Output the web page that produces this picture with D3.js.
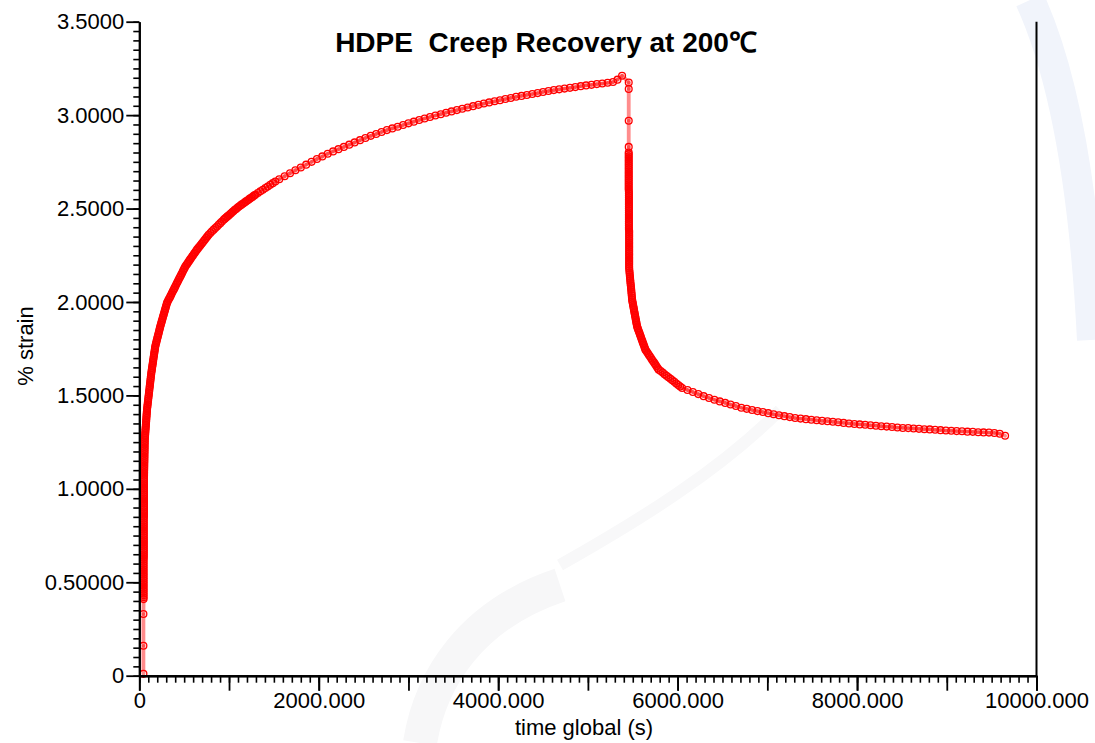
<!DOCTYPE html>
<html>
<head>
<meta charset="utf-8">
<script src="https://cdn.jsdelivr.net/npm/d3@7"></script>
<style>
  html, body { margin: 0; padding: 0; background: #ffffff; }
  svg text { font-family: "Liberation Sans", Arial, Helvetica, sans-serif; fill: #000; }
</style>
</head>
<body>
<svg id="chart" width="1095" height="743"></svg>
<script>
// ---- creep step (load applied) ----
const creepTime = [
  46, 46, 46,
  48, 48, 48, 48, 48, 48, 48, 48, 48, 48, 48, 48, 48, 48, 48, 48, 48, 48, 48, 48, 48, 48,
  50, 50, 50, 50, 50, 50, 50, 50, 50, 50, 50, 50, 50, 50, 50, 50, 50, 50, 50, 50, 50, 50,
  52, 52, 52, 52, 52, 52, 52, 52, 52, 52, 52, 52, 52, 52, 52, 52, 52, 52, 52, 52, 52, 52,
  53,
  53.4, 53.8, 54.2, 54.6, 55.0, 55.4, 55.8, 56.2, 56.6, 57.0, 57.4, 57.8, 58.2, 58.6, 59.0, 59.4, 59.8, 60.2, 60.6, 61.0,
  62.4, 63.8, 65.2, 66.6, 67.9, 69.3, 70.7, 72.1, 73.5, 74.9, 76.3, 77.7, 79.1, 80.4, 81.8, 83.2, 84.6, 86,
  88.4, 90.8, 93.2, 95.6, 98, 100.4, 102.8, 105.2, 107.6, 110, 112.4, 114.8, 117.2, 119.6, 122, 124.4, 126.8, 129.2, 131.6, 134,
  136.8, 139.5, 142.3, 145, 147.8, 150.5, 153.3, 156, 158.8, 161.5, 164.3, 167, 169.8, 172.5, 175.3, 178,
  182.7, 187.3, 192, 196.7, 201.3, 206, 210.7, 215.3, 220, 224.7, 229.3, 234,
  239.4, 244.7, 250.1, 255.4, 260.8, 266.1, 271.5, 276.9, 282.2, 287.6, 292.9, 298.3, 303.6, 309,
  318, 327, 337, 346, 355, 364, 374, 383, 392, 401,
  410, 420, 429, 438, 448, 457, 466, 476, 485, 494, 504, 513,
  524, 535, 545, 556, 567, 578, 589, 600, 610, 621, 632, 643,
  656, 669, 682, 695, 708, 721, 734, 747, 760, 773,
  792, 810, 829, 847, 866, 884, 903, 921, 940,
  954, 968, 982, 996, 1010, 1023, 1037, 1051, 1065, 1079, 1093, 1107,
  1123, 1138, 1154, 1169, 1185, 1200, 1216, 1231, 1247, 1262, 1278, 1293,
  1321, 1349, 1377, 1405, 1432, 1460, 1488, 1516,
  1560, 1620, 1680, 1740, 1800, 1860, 1920,
  1980, 2040, 2100, 2160,
  2220, 2280, 2340, 2400, 2460, 2520,
  2580, 2640, 2700, 2760,
  2820, 2880, 2940, 3000, 3060,
  3120, 3180, 3240, 3300, 3360, 3420,
  3480, 3540, 3600, 3660, 3720, 3780,
  3840,
  3900, 3960, 4020, 4080, 4140, 4200,
  4260, 4320, 4380, 4440, 4500, 4560,
  4620, 4680, 4740, 4800, 4860, 4920,
  4980, 5040, 5100, 5160, 5220,
  5280,
  5330, 5381
];
const creepStrain = [
  0.01, 0.16, 0.33,
  0.41, 0.42, 0.43, 0.44, 0.45, 0.46, 0.47, 0.48, 0.49, 0.50, 0.51, 0.52, 0.53, 0.54, 0.55, 0.56, 0.57, 0.58, 0.59, 0.60, 0.61, 0.62,
  0.63, 0.64, 0.65, 0.66, 0.67, 0.68, 0.69, 0.70, 0.71, 0.72, 0.73, 0.74, 0.75, 0.76, 0.77, 0.78, 0.79, 0.80, 0.81, 0.82, 0.83, 0.84,
  0.85, 0.86, 0.87, 0.88, 0.89, 0.90, 0.91, 0.92, 0.93, 0.94, 0.95, 0.96, 0.97, 0.98, 0.99, 1.00, 1.01, 1.02, 1.03, 1.04, 1.05, 1.06,
  1.07,
  1.080, 1.089, 1.099, 1.109, 1.118, 1.128, 1.138, 1.147, 1.157, 1.167, 1.176, 1.186, 1.196, 1.205, 1.215, 1.224, 1.234, 1.244, 1.253, 1.263,
  1.272, 1.281, 1.290, 1.299, 1.308, 1.317, 1.326, 1.335, 1.343, 1.352, 1.361, 1.370, 1.379, 1.388, 1.397, 1.406, 1.415, 1.424,
  1.434, 1.444, 1.453, 1.463, 1.473, 1.483, 1.493, 1.502, 1.512, 1.522, 1.532, 1.542, 1.551, 1.561, 1.571, 1.581, 1.591, 1.600, 1.610, 1.620,
  1.629, 1.638, 1.647, 1.656, 1.664, 1.673, 1.682, 1.691, 1.700, 1.709, 1.718, 1.727, 1.735, 1.744, 1.753, 1.762,
  1.771, 1.780, 1.789, 1.798, 1.807, 1.815, 1.824, 1.833, 1.842, 1.851, 1.860, 1.869,
  1.878, 1.887, 1.896, 1.905, 1.914, 1.923, 1.932, 1.941, 1.950, 1.959, 1.968, 1.977, 1.986, 1.995,
  2.004, 2.013, 2.021, 2.030, 2.039, 2.048, 2.057, 2.065, 2.074, 2.083,
  2.092, 2.101, 2.110, 2.119, 2.128, 2.136, 2.145, 2.154, 2.163, 2.172, 2.181, 2.190,
  2.198, 2.205, 2.213, 2.220, 2.228, 2.235, 2.243, 2.250, 2.258, 2.265, 2.273, 2.280,
  2.288, 2.296, 2.304, 2.312, 2.320, 2.328, 2.336, 2.344, 2.352, 2.360,
  2.369, 2.378, 2.387, 2.396, 2.404, 2.413, 2.422, 2.431, 2.440,
  2.446, 2.452, 2.458, 2.463, 2.469, 2.475, 2.481, 2.487, 2.493, 2.498, 2.504, 2.510,
  2.515, 2.521, 2.526, 2.531, 2.537, 2.542, 2.547, 2.553, 2.558, 2.563, 2.569, 2.574,
  2.583, 2.592, 2.601, 2.610, 2.618, 2.627, 2.636, 2.645,
  2.657, 2.673, 2.689, 2.705, 2.720, 2.735, 2.750,
  2.765, 2.779, 2.793, 2.806,
  2.818, 2.830, 2.842, 2.854, 2.866, 2.878,
  2.889, 2.899, 2.910, 2.920,
  2.929, 2.938, 2.947, 2.956, 2.965,
  2.974, 2.982, 2.990, 2.998, 3.005, 3.013,
  3.020, 3.027, 3.034, 3.041, 3.048, 3.055,
  3.062,
  3.068, 3.074, 3.080, 3.086, 3.092, 3.098,
  3.103, 3.108, 3.113, 3.118, 3.124, 3.129,
  3.134, 3.138, 3.142, 3.146, 3.150, 3.155,
  3.159, 3.162, 3.166, 3.169, 3.173,
  3.177,
  3.190, 3.211
];

// ---- recovery step (load removed) ----
const recoveryTime = [
  5455, 5455, 5455, 5455,
  5455, 5455, 5455, 5455, 5455, 5455, 5455, 5455, 5455, 5455, 5455, 5455, 5455, 5455, 5455, 5455, 5455, 5455, 5455, 5455, 5455,
  5457, 5457, 5457, 5457, 5457, 5457, 5457, 5457, 5457, 5457, 5457, 5457, 5457, 5457, 5457, 5457, 5457, 5457, 5457, 5457, 5457,
  5460, 5460, 5460, 5460, 5460, 5460, 5460, 5460, 5460, 5460, 5460, 5460, 5460, 5460, 5460, 5460, 5460, 5460, 5460, 5460, 5460,
  5462, 5464, 5466, 5468, 5470, 5472, 5474, 5476, 5479, 5481, 5483, 5485, 5487, 5489, 5491, 5493,
  5496, 5500, 5503, 5507, 5510, 5514, 5517, 5520, 5524, 5527, 5531, 5534, 5538, 5541, 5545, 5548,
  5555, 5561, 5568, 5575, 5581, 5588, 5594, 5601, 5608, 5614, 5621, 5628, 5634, 5641,
  5653, 5666, 5678, 5690, 5703, 5715, 5727, 5740, 5752, 5764, 5777, 5789,
  5811, 5833, 5854, 5876, 5898, 5920, 5941, 5963, 5985, 6007, 6028, 6050,
  6110, 6170, 6230, 6290, 6350,
  6410, 6470, 6530, 6590, 6650, 6710,
  6770, 6830, 6890, 6950, 7010, 7070,
  7130, 7190, 7250, 7310,
  7370, 7430, 7490, 7550, 7610, 7670, 7730, 7790, 7850, 7910,
  7970, 8030, 8090, 8150, 8210, 8270, 8330, 8390, 8450,
  8510, 8570, 8630, 8690, 8750, 8810, 8870, 8930, 8990,
  9050, 9110, 9170, 9230, 9290, 9350, 9410, 9470, 9530, 9590, 9650
];
const recoveryStrain = [
  3.175, 3.14, 2.97, 2.83,
  2.80, 2.79, 2.78, 2.77, 2.76, 2.75, 2.74, 2.73, 2.72, 2.71, 2.70, 2.69, 2.68, 2.67, 2.66, 2.65, 2.64, 2.63, 2.62, 2.61, 2.60,
  2.59, 2.58, 2.57, 2.56, 2.55, 2.54, 2.53, 2.52, 2.51, 2.50, 2.49, 2.48, 2.47, 2.46, 2.45, 2.44, 2.43, 2.42, 2.41, 2.40, 2.39,
  2.38, 2.37, 2.36, 2.35, 2.34, 2.33, 2.32, 2.31, 2.30, 2.29, 2.28, 2.27, 2.26, 2.25, 2.24, 2.23, 2.22, 2.21, 2.20, 2.19, 2.18,
  2.170, 2.159, 2.149, 2.138, 2.128, 2.117, 2.107, 2.096, 2.086, 2.075, 2.065, 2.054, 2.044, 2.033, 2.023, 2.012,
  2.003, 1.994, 1.985, 1.976, 1.967, 1.958, 1.949, 1.941, 1.932, 1.923, 1.914, 1.905, 1.896, 1.887, 1.878, 1.869,
  1.860, 1.851, 1.842, 1.834, 1.825, 1.816, 1.807, 1.798, 1.789, 1.780, 1.772, 1.763, 1.754, 1.745,
  1.736, 1.727, 1.718, 1.709, 1.700, 1.691, 1.683, 1.674, 1.665, 1.656, 1.647, 1.638,
  1.630, 1.622, 1.613, 1.605, 1.597, 1.589, 1.581, 1.573, 1.564, 1.556, 1.548, 1.540,
  1.529, 1.518, 1.507, 1.496, 1.486,
  1.477, 1.468, 1.460, 1.451, 1.443, 1.434,
  1.428, 1.422, 1.416, 1.411, 1.405, 1.399,
  1.394, 1.389, 1.384, 1.379,
  1.376, 1.373, 1.370, 1.367, 1.364, 1.362, 1.359, 1.356, 1.353, 1.350,
  1.347, 1.345, 1.343, 1.340, 1.338, 1.335, 1.333, 1.331, 1.328,
  1.326, 1.325, 1.323, 1.321, 1.319, 1.318, 1.316, 1.314, 1.312,
  1.311, 1.309, 1.308, 1.306, 1.305, 1.303, 1.302, 1.301, 1.299, 1.295, 1.284
];

// ---- axes ----
const xTickValues = [0, 2000, 4000, 6000, 8000, 10000];
const xTickLabels = ["0", "2000.000", "4000.000", "6000.000", "8000.000", "10000.000"];
const yTickValues = [0, 0.5, 1.0, 1.5, 2.0, 2.5, 3.0, 3.5];
const yTickLabels = ["0", "0.50000", "1.0000", "1.5000", "2.0000", "2.5000", "3.0000", "3.5000"];

const titleText = "HDPE  Creep Recovery at 200\u2103";
const xTitle = "time global (s)";
const yTitle = "% strain";

const svg = d3.select("#chart");
const plot = { left: 139.3, right: 1036.5, top: 21.7, bottom: 675.7 };

const x = d3.scaleLinear().domain([0, 10000]).range([plot.left, plot.right]);
const y = d3.scaleLinear().domain([0, 3.5]).range([plot.bottom, plot.top]);

// faint background emblem
const wm = svg.append("g").attr("fill", "none");
wm.append("path")
  .attr("d", "M1030,0 C1062,70 1084,180 1092,340")
  .attr("stroke", "#f1f4fb").attr("stroke-width", 30);
wm.append("path")
  .attr("d", "M420,743 C430,680 470,615 560,585")
  .attr("stroke", "#f7f7f8").attr("stroke-width", 34);
wm.append("path")
  .attr("d", "M780,410 C720,470 640,520 560,565")
  .attr("stroke", "#f8f8f9").attr("stroke-width", 12);

// curve data as point lists
const creep = d3.zip(creepTime, creepStrain);
const recovery = d3.zip(recoveryTime, recoveryStrain);
const allPts = creep.concat(recovery);

// connecting segments, translucent so dense stretches build up
const segs = d3.pairs(allPts);
svg.append("g")
  .selectAll("line")
  .data(segs)
  .join("line")
  .attr("x1", d => x(d[0][0]))
  .attr("y1", d => y(d[0][1]))
  .attr("x2", d => x(d[1][0]))
  .attr("y2", d => y(d[1][1]))
  .attr("stroke", "#ff0000")
  .attr("stroke-opacity", 0.45)
  .attr("stroke-width", 3.8)
  .attr("stroke-linecap", "round");

// open circle markers
svg.append("g")
  .selectAll("circle")
  .data(allPts)
  .join("circle")
  .attr("cx", d => x(d[0]))
  .attr("cy", d => y(d[1]))
  .attr("r", 3.4)
  .attr("fill", "none")
  .attr("stroke", "#ff0000")
  .attr("stroke-width", 1.3);

// axis styling helper
function styleAxis(g, tickW) {
  g.selectAll(".domain").attr("stroke", "#000").attr("stroke-width", 2);
  g.selectAll(".tick line").attr("stroke", "#000").attr("stroke-width", tickW);
  g.selectAll(".tick text").attr("font-size", 22).attr("fill", "#000")
    .attr("font-family", "'Liberation Sans', Arial, sans-serif");
}

// y axis: minor, then labelled major ticks
const yMinor = svg.append("g").attr("transform", `translate(${plot.left},0)`)
  .call(d3.axisLeft(y).tickValues(y.ticks(70)).tickSize(6).tickSizeOuter(0).tickFormat(""));
styleAxis(yMinor, 1.6);
const yMajor = svg.append("g").attr("transform", `translate(${plot.left},0)`)
  .call(d3.axisLeft(y).tickValues(yTickValues).tickSize(13).tickSizeOuter(0).tickPadding(2)
    .tickFormat((d, i) => yTickLabels[i]));
styleAxis(yMajor, 1.8);

// x axis: minor, unlabelled thousands, labelled ticks
const xMinor = svg.append("g").attr("transform", `translate(0,${plot.bottom})`)
  .call(d3.axisBottom(x).tickValues(x.ticks(100)).tickSize(7).tickSizeOuter(0).tickFormat(""));
styleAxis(xMinor, 1.6);
const xMid = svg.append("g").attr("transform", `translate(0,${plot.bottom})`)
  .call(d3.axisBottom(x).tickValues(x.ticks(10)).tickSize(15).tickSizeOuter(0).tickFormat(""));
styleAxis(xMid, 1.8);
const xMajor = svg.append("g").attr("transform", `translate(0,${plot.bottom})`)
  .call(d3.axisBottom(x).tickValues(xTickValues).tickSize(15).tickSizeOuter(0).tickPadding(2)
    .tickFormat((d, i) => xTickLabels[i]));
styleAxis(xMajor, 1.8);

// right-hand frame line
svg.append("line")
  .attr("x1", x(10000)).attr("x2", x(10000))
  .attr("y1", y(3.5)).attr("y2", y(0))
  .attr("stroke", "#000").attr("stroke-width", 2);

// titles
svg.append("text")
  .attr("x", 546).attr("y", 52)
  .attr("text-anchor", "middle")
  .attr("font-size", 28).attr("font-weight", "bold")
  .style("white-space", "pre")
  .text(titleText);

svg.append("text")
  .attr("x", 584).attr("y", 735)
  .attr("text-anchor", "middle")
  .attr("font-size", 22)
  .text(xTitle);

svg.append("text")
  .attr("transform", "translate(33,346) rotate(-90)")
  .attr("text-anchor", "middle")
  .attr("font-size", 22)
  .text(yTitle);
</script>
</body>
</html>
